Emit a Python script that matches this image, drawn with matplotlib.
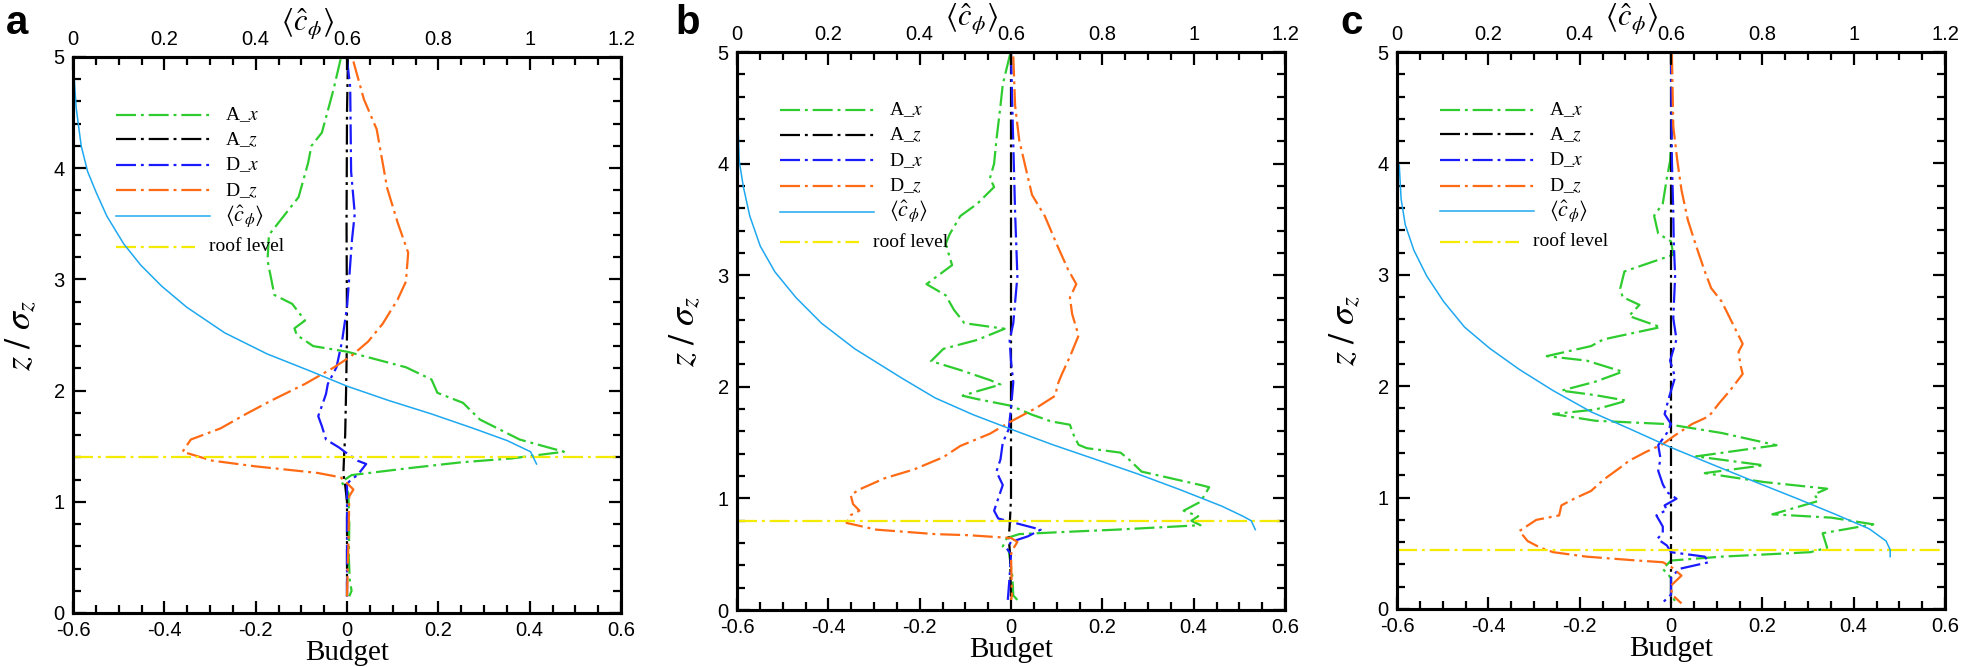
import matplotlib
matplotlib.use("Agg")
import matplotlib.pyplot as plt
import numpy as np

plt.rcParams['mathtext.fontset'] = 'stix'
plt.rcParams['font.family'] = 'Liberation Sans'

# budget terms (x = budget, z = height / sigma_z)
# ---- panel a ----
a_Ax = [(-0.014, 4.98), (-0.03, 4.7), (-0.055, 4.32), (-0.078, 4.2), (-0.085, 4.05), (-0.106, 3.74),
        (-0.171, 3.40), (-0.174, 3.17), (-0.159, 2.86), (-0.120, 2.78), (-0.092, 2.63), (-0.115, 2.56),
        (-0.110, 2.50), (-0.074, 2.40), (0.0, 2.35), (0.129, 2.21), (0.185, 2.10), (0.198, 1.98),
        (0.254, 1.89), (0.291, 1.74), (0.378, 1.56), (0.475, 1.45), (0.36, 1.39), (0.25, 1.355),
        (0.13, 1.30), (0.01, 1.24), (-0.012, 1.18), (0.003, 1.08), (0.005, 0.8), (0.004, 0.5),
        (0.006, 0.3), (0.010, 0.2), (0.005, 0.15)]
a_Az = [(0.002, 4.98), (0.0, 4.5), (-0.001, 3.5), (0.0, 2.5), (-0.002, 2.0), (-0.004, 1.6),
        (-0.006, 1.45), (-0.008, 1.25), (-0.004, 1.15), (0.0, 1.0), (0.0, 0.15)]
a_Dx = [(0.0, 4.98), (0.007, 4.73), (0.009, 3.97), (0.017, 3.59), (0.011, 3.36), (0.005, 3.02),
        (0.0, 2.75), (-0.011, 2.44), (-0.023, 2.21), (-0.042, 2.06), (-0.046, 1.97), (-0.051, 1.91),
        (-0.063, 1.77), (-0.055, 1.68), (-0.046, 1.56), (-0.018, 1.49), (-0.005, 1.45), (0.023, 1.37),
        (0.042, 1.34), (0.023, 1.24), (0.009, 1.20), (0.0, 1.16), (0.0, 0.15)]
a_Dz = [(0.014, 4.96), (0.037, 4.62), (0.065, 4.35), (0.088, 3.82), (0.111, 3.51), (0.134, 3.24),
        (0.129, 2.98), (0.111, 2.82), (0.078, 2.60), (0.046, 2.44), (0.009, 2.31), (-0.028, 2.21),
        (-0.092, 2.06), (-0.166, 1.91), (-0.221, 1.79), (-0.277, 1.66), (-0.342, 1.56), (-0.36, 1.45),
        (-0.295, 1.37), (-0.203, 1.32), (-0.065, 1.26), (-0.014, 1.22), (0.002, 1.16), (0.014, 1.11),
        (0.005, 1.05), (0.003, 0.6), (0.0, 0.15)]
a_c = [(0.0, 4.98), (0.007, 4.54), (0.018, 4.2), (0.032, 3.97), (0.051, 3.78), (0.074, 3.57),
       (0.111, 3.32), (0.148, 3.13), (0.194, 2.94), (0.249, 2.75), (0.332, 2.52), (0.425, 2.33),
       (0.517, 2.18), (0.6, 2.04), (0.692, 1.91), (0.785, 1.79), (0.877, 1.66), (0.951, 1.55),
       (1.002, 1.45), (1.015, 1.34)]
a_roof = 1.4

# ---- panel b ----
b_Ax = [(-0.002, 4.98), (-0.018, 4.71), (-0.023, 4.52), (-0.032, 4.21), (-0.037, 4.0), (-0.046, 3.87),
        (-0.037, 3.79), (-0.074, 3.64), (-0.111, 3.53), (-0.134, 3.37), (-0.143, 3.28), (-0.129, 3.09),
        (-0.185, 2.92), (-0.143, 2.82), (-0.125, 2.69), (-0.102, 2.57), (-0.014, 2.52), (-0.074, 2.42),
        (-0.148, 2.34), (-0.175, 2.23), (-0.111, 2.15), (-0.046, 2.06), (-0.023, 2.02), (-0.074, 1.96),
        (-0.106, 1.92), (-0.074, 1.89), (0.0, 1.83), (0.046, 1.75), (0.088, 1.69), (0.129, 1.66),
        (0.138, 1.56), (0.148, 1.48), (0.166, 1.45), (0.24, 1.41), (0.258, 1.35), (0.286, 1.24),
        (0.415, 1.12), (0.434, 1.10), (0.415, 0.97), (0.378, 0.89), (0.41, 0.84), (0.395, 0.80),
        (0.415, 0.76), (0.231, 0.72), (0.12, 0.70), (0.018, 0.68), (-0.009, 0.645), (-0.018, 0.57),
        (-0.005, 0.53), (0.003, 0.3), (0.005, 0.13), (0.014, 0.09)]
b_Az = [(0.0, 4.98), (0.0, 3.0), (0.0, 1.0), (-0.003, 0.75), (-0.005, 0.65), (-0.002, 0.5), (0.0, 0.1)]
b_Dx = [(0.0, 4.98), (0.004, 4.33), (0.009, 3.56), (0.014, 2.99), (0.005, 2.57), (-0.003, 2.42),
        (0.0, 2.23), (0.005, 2.04), (0.0, 1.81), (-0.005, 1.62), (-0.018, 1.50), (-0.023, 1.35),
        (-0.032, 1.24), (-0.018, 1.12), (-0.037, 0.89), (-0.028, 0.82), (0.009, 0.78), (0.065, 0.72),
        (0.037, 0.66), (0.0, 0.61), (-0.009, 0.55), (0.0, 0.5), (-0.003, 0.3), (-0.007, 0.09)]
b_Dz = [(0.005, 4.96), (0.009, 4.52), (0.018, 4.21), (0.046, 3.72), (0.074, 3.53), (0.102, 3.26),
        (0.125, 3.05), (0.143, 2.92), (0.129, 2.80), (0.134, 2.65), (0.148, 2.46), (0.129, 2.27),
        (0.111, 2.11), (0.102, 2.02), (0.097, 1.92), (0.055, 1.81), (0.0, 1.69), (-0.046, 1.58),
        (-0.111, 1.47), (-0.148, 1.37), (-0.212, 1.26), (-0.277, 1.18), (-0.332, 1.08), (-0.351, 1.03),
        (-0.346, 0.95), (-0.332, 0.89), (-0.351, 0.85), (-0.36, 0.78), (-0.295, 0.72), (-0.166, 0.68),
        (-0.092, 0.67), (0.0, 0.645), (0.014, 0.61), (0.005, 0.55), (0.0, 0.5), (0.002, 0.13),
        (0.0, 0.09)]
b_c = [(0.0, 4.4), (0.002, 4.37), (0.005, 4.02), (0.014, 3.79), (0.028, 3.53), (0.051, 3.26),
       (0.083, 3.03), (0.129, 2.80), (0.185, 2.57), (0.258, 2.34), (0.36, 2.08), (0.434, 1.90),
       (0.517, 1.75), (0.6, 1.62), (0.692, 1.48), (0.785, 1.35), (0.877, 1.22), (0.969, 1.08),
       (1.062, 0.93), (1.108, 0.84), (1.126, 0.80), (1.135, 0.72)]
b_roof = 0.8

# ---- panel c ----
c_Ax = [(0.0, 4.98), (0.002, 4.33), (-0.002, 4.02), (-0.009, 3.87), (-0.018, 3.64), (-0.037, 3.53),
        (-0.028, 3.37), (0.0, 3.30), (0.005, 3.18), (-0.102, 3.03), (-0.111, 2.88), (-0.106, 2.80),
        (-0.069, 2.73), (-0.092, 2.63), (-0.023, 2.53), (-0.148, 2.42), (-0.175, 2.36), (-0.272, 2.27),
        (-0.185, 2.23), (-0.106, 2.13), (-0.166, 2.04), (-0.24, 1.96), (-0.166, 1.92), (-0.097, 1.87),
        (-0.166, 1.79), (-0.258, 1.75), (-0.166, 1.69), (-0.009, 1.66), (0.111, 1.58), (0.231, 1.47),
        (0.055, 1.37), (0.203, 1.29), (0.074, 1.22), (0.203, 1.14), (0.342, 1.08), (0.314, 1.03),
        (0.323, 0.97), (0.222, 0.85), (0.351, 0.82), (0.443, 0.76), (0.332, 0.68), (0.342, 0.55),
        (0.305, 0.51), (0.111, 0.47), (0.0, 0.435), (-0.018, 0.36), (0.0, 0.28), (0.0, 0.13),
        (0.009, 0.07)]
c_Az = [(0.0, 4.98), (0.0, 3.0), (0.0, 1.0), (0.0, 0.05)]
c_Dx = [(0.0, 4.98), (0.002, 4.02), (0.005, 3.56), (0.006, 3.3), (0.009, 2.99), (0.005, 2.61),
        (0.012, 2.42), (-0.002, 2.23), (0.009, 2.08), (-0.005, 1.89), (-0.014, 1.75), (0.0, 1.66),
        (-0.009, 1.58), (-0.028, 1.47), (-0.023, 1.35), (-0.028, 1.24), (-0.018, 1.12), (-0.009, 1.05),
        (0.012, 0.99), (-0.014, 0.93), (-0.009, 0.89), (-0.032, 0.84), (-0.018, 0.74), (-0.018, 0.68),
        (-0.030, 0.63), (-0.009, 0.57), (0.0, 0.51), (0.074, 0.47), (0.083, 0.42), (0.018, 0.36),
        (0.0, 0.28), (0.0, 0.13), (-0.02, 0.05)]
c_Dz = [(0.002, 4.98), (0.005, 4.33), (0.014, 4.02), (0.023, 3.76), (0.037, 3.49), (0.055, 3.26),
        (0.074, 3.03), (0.088, 2.88), (0.111, 2.76), (0.134, 2.57), (0.157, 2.38), (0.148, 2.31),
        (0.152, 2.19), (0.157, 2.11), (0.129, 1.96), (0.106, 1.85), (0.083, 1.73), (0.046, 1.66),
        (0.009, 1.56), (-0.018, 1.48), (-0.055, 1.41), (-0.092, 1.33), (-0.111, 1.27), (-0.148, 1.16),
        (-0.175, 1.06), (-0.212, 0.99), (-0.24, 0.93), (-0.245, 0.84), (-0.295, 0.80), (-0.332, 0.70),
        (-0.314, 0.61), (-0.286, 0.55), (-0.258, 0.51), (-0.185, 0.47), (-0.074, 0.435), (-0.018, 0.42),
        (0.0, 0.38), (0.023, 0.30), (0.0, 0.21), (0.002, 0.13), (0.023, 0.05)]
c_c = [(0.0, 4.02), (0.005, 3.98), (0.009, 3.68), (0.018, 3.45), (0.037, 3.22), (0.065, 2.99),
       (0.102, 2.76), (0.148, 2.53), (0.203, 2.34), (0.268, 2.15), (0.342, 1.96), (0.425, 1.77),
       (0.508, 1.62), (0.6, 1.45), (0.683, 1.31), (0.785, 1.14), (0.877, 0.99), (0.96, 0.85),
       (1.034, 0.72), (1.071, 0.61), (1.08, 0.53), (1.08, 0.47)]
c_roof = 0.53

panels = [('a', a_Ax, a_Az, a_Dx, a_Dz, a_c, a_roof),
          ('b', b_Ax, b_Az, b_Dx, b_Dz, b_c, b_roof),
          ('c', c_Ax, c_Az, c_Dx, c_Dz, c_c, c_roof)]

names = ['A_$x$', 'A_$z$', 'D_$x$', 'D_$z$']
colors = ['#2ecc2e', '#000000', '#1a1aff', '#ff6a14']
cyan = '#1ea8f0'
yellow = '#f5eb00'
dashdot = (0, (9, 2.2, 1.3, 2.2))
cbar = r'$\left\langle \hat{c}_{\phi} \right\rangle$'

# axes boxes in figure fractions (left, bottom, width, height)
boxes = [(73 / 1961, 54 / 667, 548 / 1961, 556 / 667),
         (737 / 1961, 57 / 667, 548 / 1961, 558 / 667),
         (1397 / 1961, 58 / 667, 548 / 1961, 557 / 667)]
letter_x = [6 / 1961, 675 / 1961, 1340 / 1961]

fig = plt.figure(figsize=(19.61, 6.67), dpi=100)

for (tag, Ax, Az, Dx, Dz, cc, roof), box, lx in zip(panels, boxes, letter_x):
    ax = fig.add_axes(box)
    for data, col in zip([Ax, Az, Dx, Dz], colors):
        d = np.array(data)
        ax.plot(d[:, 0], d[:, 1], color=col, lw=1.6, linestyle=dashdot)
    ax.axhline(roof, color=yellow, lw=1.6, linestyle=dashdot)

    ax.set_xlim(-0.6, 0.6)
    ax.set_ylim(0, 5)
    ax.set_xticks(np.arange(-0.6, 0.61, 0.2))
    ax.set_xticklabels(['-0.6', '-0.4', '-0.2', '0', '0.2', '0.4', '0.6'])
    ax.set_xticks(np.arange(-0.6, 0.61, 0.05), minor=True)
    ax.set_yticks(range(6))
    ax.set_yticks(np.arange(0, 5.01, 0.2), minor=True)
    ax.tick_params(which='both', direction='in', right=True, width=1.6, labelsize=14.5)
    ax.tick_params(which='major', length=9)
    ax.tick_params(which='minor', length=5.5)
    ax.tick_params(axis='x', which='major', pad=5.5)
    ax.tick_params(axis='y', which='major', pad=6)
    for s in ax.spines.values():
        s.set_linewidth(2.2)
    ax.set_xlabel('Budget', family='Liberation Serif', fontsize=21)
    ax.xaxis.set_label_coords(0.5, -0.048)
    ax.set_ylabel(r'$z\ /\ \sigma_z$', fontsize=26)
    ax.yaxis.set_label_coords(-0.062, 0.5)

    # top axis for the mean concentration
    top = ax.twiny()
    d = np.array(cc)
    top.plot(d[:, 0], d[:, 1], color=cyan, lw=1.1)
    top.set_xlim(0, 1.2)
    top.set_xticks(np.arange(0, 1.21, 0.2))
    top.set_xticklabels(['0', '0.2', '0.4', '0.6', '0.8', '1', '1.2'])
    top.set_xticks(np.arange(0, 1.21, 0.05), minor=True)
    top.tick_params(which='both', direction='in', width=1.6, labelsize=14.5)
    top.tick_params(which='major', length=9, pad=5.5)
    top.tick_params(which='minor', length=5.5)
    for s in top.spines.values():
        s.set_linewidth(2.2)
    ax.text(0.428, 1.06, cbar, transform=ax.transAxes, ha='center', va='center', fontsize=22)

    # legend drawn like the original (lines + labels)
    rows = [0.896, 0.852, 0.806, 0.76, 0.714]
    for y, col, name in zip(rows[:4], colors, names):
        ax.plot([0.078, 0.25], [y, y], transform=ax.transAxes, color=col, lw=1.6, linestyle=dashdot)
        ax.text(0.277, y, name, transform=ax.transAxes, va='center', fontsize=14,
                family='Liberation Serif')
    ax.plot([0.078, 0.25], [rows[4], rows[4]], transform=ax.transAxes, color=cyan, lw=1.1)
    ax.text(0.277, rows[4], cbar, transform=ax.transAxes, va='center', fontsize=16)
    ax.plot([0.078, 0.222], [0.659, 0.659], transform=ax.transAxes, color=yellow, lw=1.6,
            linestyle=dashdot)
    ax.text(0.248, 0.659, 'roof level', transform=ax.transAxes, va='center', fontsize=14,
            family='Liberation Serif')

    fig.text(lx, 1 - 34 / 667, tag, fontsize=29, fontweight='bold', va='baseline')

fig.savefig('out.png', dpi=100)
